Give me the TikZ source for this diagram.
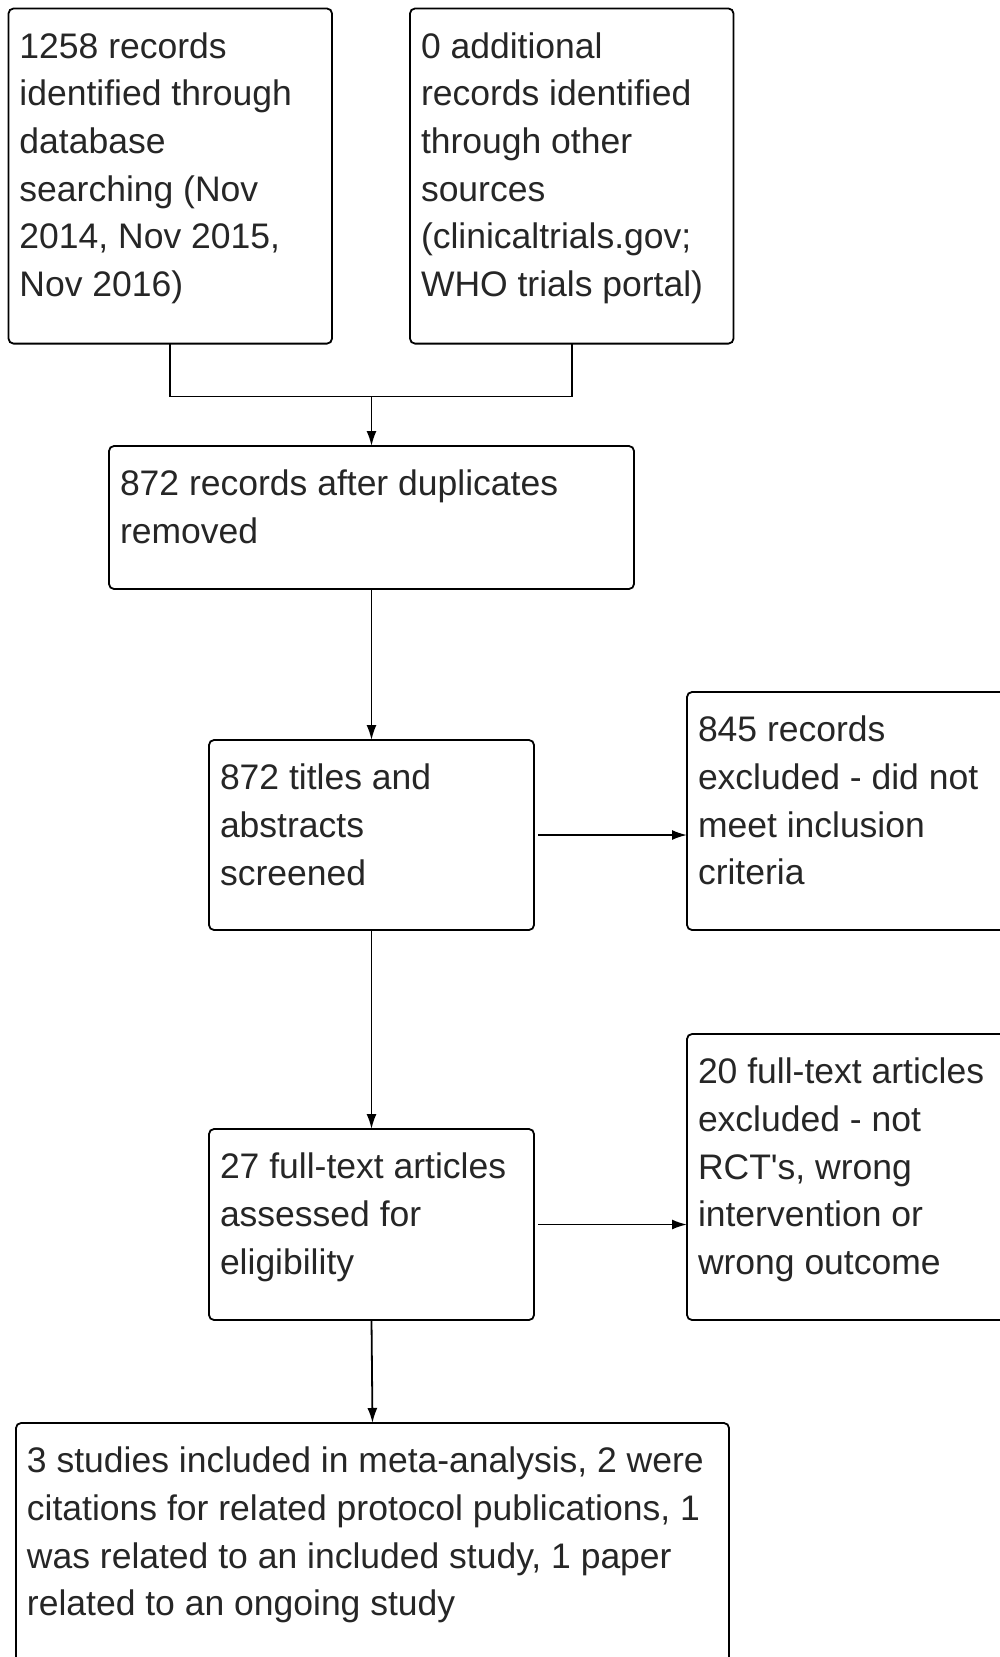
\documentclass[tikz,border=0pt]{standalone}
\usepackage{fontspec}
\setmainfont{Liberation Sans}
\usetikzlibrary{arrows.meta}
\newcommand{\pbx}[3]{\parbox[c][#2][t]{#1}{\raggedright\fontsize{35.5pt}{47.6pt}\selectfont\vspace*{16.5pt}\strut #3}}
\begin{document}
\begin{tikzpicture}[x=1pt,y=1pt,
  flowbox/.style={draw, line width=1.8pt, rounded corners=5pt, anchor=north west,
    inner xsep=11pt, inner ysep=0pt, outer sep=0pt, text=black!85},
  conn/.style={line width=1.8pt},
  arr/.style={line width=1.8pt, -{Latex[length=15pt,width=10pt]}}]
\useasboundingbox (0,0) rectangle (999,-1657);
\fill[white] (0,0) rectangle (999,-1657);

\node[flowbox] (A) at (8.5,-8.5) {\pbx{301.5pt}{335.1pt}{\mbox{1258 records}\\\mbox{identified through}\\\mbox{database}\\\mbox{searching (Nov}\\\mbox{2014, Nov 2015,}\\\mbox{Nov 2016)}}};
\node[flowbox] (B) at (410,-8.5) {\pbx{301.5pt}{335.1pt}{\mbox{0 additional}\\\mbox{records identified}\\\mbox{through other}\\\mbox{sources}\\\mbox{(clinicaltrials.gov;}\\\mbox{WHO trials portal)}}};
\node[flowbox] (C) at (109,-446) {\pbx{503pt}{143pt}{\mbox{872 records after duplicates}\\\mbox{removed}}};
\node[flowbox] (D) at (209,-740) {\pbx{303pt}{190pt}{\mbox{872 titles and}\\\mbox{abstracts}\\\mbox{screened}}};
\node[flowbox] (E) at (687,-692) {\pbx{301pt}{238pt}{\mbox{845 records}\\\mbox{excluded - did not}\\\mbox{meet inclusion}\\\mbox{criteria}}};
\node[flowbox] (F) at (209,-1129) {\pbx{303pt}{191pt}{\mbox{27 full-text articles}\\\mbox{assessed for}\\\mbox{eligibility}}};
\node[flowbox] (G) at (687,-1034) {\pbx{301pt}{286pt}{\mbox{20 full-text articles}\\\mbox{excluded - not}\\\mbox{RCT\textquotesingle s, wrong}\\\mbox{intervention or}\\\mbox{wrong outcome}}};
\node[flowbox] (H) at (16,-1423) {\pbx{691pt}{240pt}{\mbox{3 studies included in meta-analysis, 2 were}\\\mbox{citations for related protocol publications, 1}\\\mbox{was related to an included study, 1 paper}\\\mbox{related to an ongoing study}}};

\coordinate (m) at (C.north |- 0,-396.4);
\draw[conn] (A.south) |- (m) -| (B.south);
\draw[arr] (m) -- (C.north);
\draw[arr] (C.south) -- (D.north);
\draw[arr, shorten <=4pt] (D.east) -- (D.east -| E.west);
\draw[arr] (D.south) -- (F.north);
\draw[arr, shorten <=4pt] (F.east) -- (F.east -| G.west);
\draw[arr] (F.south) -- (H.north);
\end{tikzpicture}
\end{document}
